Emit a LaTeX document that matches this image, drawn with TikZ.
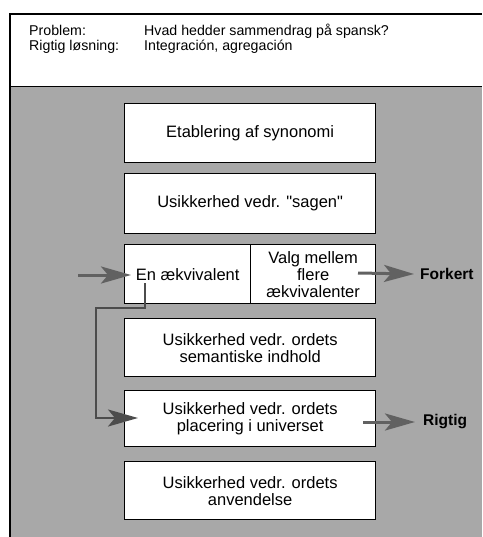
\documentclass[tikz,border=0pt]{standalone}
\usepackage{fontspec}
\setmainfont{Liberation Sans}
\usetikzlibrary{arrows.meta}
\begin{document}
\begin{tikzpicture}[x=1pt,y=-1pt,
  stage/.style={draw=black, line width=1.3pt, fill=white, inner sep=0pt,
    anchor=north west, align=center, minimum width=251pt,
    font=\fontsize{16.5}{17}\selectfont},
  halfstage/.style={stage, minimum width=126pt},
  hdr/.style={anchor=base west, inner sep=0pt, font=\fontsize{14.2}{15}\selectfont},
  verdict/.style={anchor=west, inner sep=0pt, font=\bfseries\fontsize{15.5}{16}\selectfont},
  flow/.style={line width=3pt, draw=black!62,
    -{Stealth[length=30pt,width=17pt,inset=7pt]}},
  route/.style={line width=2.6pt, draw=black!70,
    -{Stealth[length=30pt,width=17pt,inset=7pt]}}]
\useasboundingbox (0,0) rectangle (482,537);

% shaded field and frame
\fill[black!34] (10,87) rectangle (482,537);
\draw[line width=1.4pt] (10,537) -- (10,14) -- (482,14);
\draw[line width=1.4pt] (10,86.5) -- (482,86.5);

% header
\node[hdr] (plab) at (29,36) {Problem:};
\node[hdr] (ptxt) at (144,36) {Hvad hedder sammendrag på spansk?};
\node[hdr] (rlab) at (29,50.5) {Rigtig løsning:};
\node[hdr] (rtxt) at (144,50.5) {Integración, agregación};

% stages
\node[stage, minimum height=59pt] (s1) at (124,103) {Etablering af synonomi};
\node[stage, minimum height=60pt] (s2) at (124,173) {Usikkerhed vedr. \textquotedbl sagen\textquotedbl};
\node[halfstage, minimum height=59pt] (s3a) at (124,244) {En ækvivalent};
\node[stage, minimum width=125pt, minimum height=59pt] (s3b) at (250,244) {Valg mellem\\flere\\ækvivalenter};
\node[stage, minimum height=58pt] (s4) at (124,318) {Usikkerhed vedr. ordets\\semantiske indhold};
\node[stage, minimum height=56pt] (s5) at (124,390) {Usikkerhed vedr. ordets\\placering i universet};
\node[stage, minimum height=58pt] (s6) at (124,461) {Usikkerhed vedr. ordets\\anvendelse};

% outcomes
\node[verdict] (wrong) at (420,274) {Forkert};
\node[verdict] (right) at (423,422) {Rigtig};

% connectors
\coordinate (entry) at (78,275);
\coordinate (start) at (145,283);
\draw[flow] (entry) -- (131,275);
\draw[flow] (358,273) -- ([xshift=-6pt]wrong.west);
\draw[flow] (363,422) -- ([xshift=-8pt]right.west);
\draw[route] (start) -- (145,308) -- (96,308) -- (96,418) -- (138,418);
\end{tikzpicture}
\end{document}
